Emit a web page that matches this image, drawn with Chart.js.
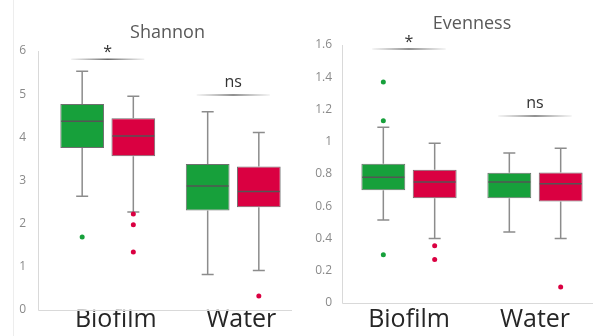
<!DOCTYPE html>
<html>
<head>
<meta charset="utf-8">
<script src="https://cdn.jsdelivr.net/npm/chart.js@4.4.1/dist/chart.umd.min.js"></script>
<style>
  html, body { margin: 0; padding: 0; background: #fff; overflow: hidden; }
  #wrap { position: relative; width: 593px; height: 336px; overflow: hidden; }
  #edge { position: absolute; left: 13px; top: 0; width: 1px; height: 336px; background: #ededed; }
  #shannon { position: absolute; left: 0; top: 0; }
  #evenness { position: absolute; left: 296px; top: 0; }
</style>
</head>
<body>
<div id="wrap">
  <div id="edge"></div>
  <canvas id="shannon" width="296" height="336"></canvas>
  <canvas id="evenness" width="302" height="336"></canvas>
</div>
<script>
const groups = ['Biofilm', 'Water']

// per group: whisker low, Q1, median, Q3, whisker high
const shannonGreen = [[2.63, 3.75, 4.37, 4.77, 5.53], [0.82, 2.30, 2.87, 3.38, 4.59]]
const shannonRed = [[2.27, 3.56, 4.03, 4.44, 4.95], [0.91, 2.38, 2.74, 3.32, 4.11]]
const shannonGreenOut = [[1.69], []]
const shannonRedOut = [[2.22, 1.97, 1.34], [0.32]]
const shannonTicks = [0, 1, 2, 3, 4, 5, 6]
const shannonSig = ['*', 'ns']
const shannonSigLevel = [5.81, 4.98]

const evenGreen = [[0.515, 0.70, 0.78, 0.863, 1.09], [0.44, 0.65, 0.75, 0.807, 0.93]]
const evenRed = [[0.40, 0.65, 0.75, 0.826, 0.99], [0.40, 0.63, 0.74, 0.81, 0.96]]
const evenGreenOut = [[1.37, 1.13, 0.30], []]
const evenRedOut = [[0.355, 0.27], [0.10]]
const evenTicks = [0, 0.2, 0.4, 0.6, 0.8, 1, 1.2, 1.4, 1.6]
const evenSig = ['*', 'ns']
const evenSigLevel = [1.575, 1.16]

const GREEN = '#17a03b'
const RED = '#da0041'
const FONT = '"Open Sans", "Noto Sans", sans-serif'

// whiskers, medians, outliers, significance bars, titles
const boxExtras = {
  id: 'boxExtras',
  beforeDatasetsDraw (chart, args, opts) {
    const ctx = chart.ctx
    const a = chart.chartArea
    const ax = Math.round(a.left + opts.axisShift) + 0.5
    ctx.save()
    ctx.strokeStyle = '#d9d9d9'
    ctx.lineWidth = 1
    ctx.beginPath()
    ctx.moveTo(ax, a.top)
    ctx.lineTo(ax, Math.round(a.bottom) + 0.5)
    ctx.lineTo(a.right + opts.axisEnd, Math.round(a.bottom) + 0.5)
    ctx.stroke()
    ctx.restore()
  },
  afterDatasetsDraw (chart, args, opts) {
    const ctx = chart.ctx
    const y = chart.scales.y
    const a = chart.chartArea
    ctx.save()

    chart.data.datasets.forEach((ds, i) => {
      const meta = chart.getDatasetMeta(i)
      meta.data.forEach((bar, j) => {
        const [lo, q1, med, q3, hi] = ds.stats[j]
        const x = bar.x
        const half = bar.width / 2
        ctx.strokeStyle = '#8c8c8c'
        ctx.lineWidth = 1.5
        ctx.beginPath()
        ctx.moveTo(x, y.getPixelForValue(q3))
        ctx.lineTo(x, y.getPixelForValue(hi))
        ctx.moveTo(x - 6, y.getPixelForValue(hi))
        ctx.lineTo(x + 6, y.getPixelForValue(hi))
        ctx.moveTo(x, y.getPixelForValue(q1))
        ctx.lineTo(x, y.getPixelForValue(lo))
        ctx.moveTo(x - 6, y.getPixelForValue(lo))
        ctx.lineTo(x + 6, y.getPixelForValue(lo))
        ctx.stroke()

        ctx.strokeStyle = '#555'
        ctx.beginPath()
        ctx.moveTo(x - half + 1, y.getPixelForValue(med))
        ctx.lineTo(x + half - 1, y.getPixelForValue(med))
        ctx.stroke()

        ctx.fillStyle = ds.backgroundColor
        ds.outliers[j].forEach(v => {
          ctx.beginPath()
          ctx.arc(x, y.getPixelForValue(v), 2.5, 0, Math.PI * 2)
          ctx.fill()
        })
      })
    })

    // significance marks over each group
    const g = chart.getDatasetMeta(0).data
    const r = chart.getDatasetMeta(1).data
    opts.sig.forEach((txt, j) => {
      const x1 = g[j].x - 11
      const x2 = r[j].x + 11
      const ly = y.getPixelForValue(opts.sigLevel[j])
      const grad = ctx.createLinearGradient(x1, 0, x2, 0)
      grad.addColorStop(0, 'rgba(120,120,120,0.1)')
      grad.addColorStop(0.5, 'rgba(90,90,90,0.9)')
      grad.addColorStop(1, 'rgba(120,120,120,0.1)')
      ctx.strokeStyle = grad
      ctx.lineWidth = 1.5
      ctx.beginPath()
      ctx.moveTo(x1, ly)
      ctx.lineTo(x2, ly)
      ctx.stroke()
      ctx.fillStyle = '#333'
      ctx.font = '16px ' + FONT
      ctx.textAlign = 'center'
      ctx.textBaseline = 'alphabetic'
      ctx.fillText(txt, (x1 + x2) / 2, ly - (txt === '*' ? 2 : 8))
    })

    ctx.fillStyle = '#595959'
    ctx.font = '18px ' + FONT
    ctx.textAlign = 'center'
    ctx.fillText(opts.title, (a.left + a.right) / 2 + opts.titleShift, opts.titleY)
    ctx.restore()
  }
}

function makeChart (id, green, red, greenOut, redOut, ticks, sig, sigLevel, o) {
  return new Chart(document.getElementById(id).getContext('2d'), {
    type: 'bar',
    data: {
      labels: groups,
      datasets: [
        {
          label: 'Series A',
          data: green.map(s => [s[1], s[3]]),
          stats: green,
          outliers: greenOut,
          backgroundColor: GREEN,
          borderColor: '#6f6f6f',
          borderWidth: 1,
          borderSkipped: false,
          categoryPercentage: 0.815,
          barPercentage: 0.855
        },
        {
          label: 'Series B',
          data: red.map(s => [s[1], s[3]]),
          stats: red,
          outliers: redOut,
          backgroundColor: RED,
          borderColor: '#6f6f6f',
          borderWidth: 1,
          borderSkipped: false,
          categoryPercentage: 0.815,
          barPercentage: 0.855
        }
      ]
    },
    options: {
      responsive: false,
      animation: false,
      layout: { padding: { top: o.top, left: 0, right: 0, bottom: 0 } },
      plugins: {
        legend: { display: false },
        tooltip: { enabled: false },
        title: { display: false },
        boxExtras: {
          title: o.title,
          titleY: o.titleY,
          titleShift: o.titleShift,
          axisShift: o.axisShift,
          axisEnd: o.axisEnd,
          sig: sig,
          sigLevel: sigLevel
        }
      },
      scales: {
        x: {
          grid: { display: false, drawTicks: false },
          border: { display: false },
          ticks: {
            color: '#262626',
            font: { family: FONT, size: 25, lineHeight: 1 },
            padding: o.xPad,
            labelOffset: o.labelOffset
          },
          afterFit: s => { s.height = o.xHeight }
        },
        y: {
          min: ticks[0],
          max: ticks[ticks.length - 1],
          grid: { display: false, drawTicks: false },
          border: { display: false },
          afterBuildTicks: s => { s.ticks = ticks.map(v => ({ value: v })) },
          ticks: {
            color: '#8a8a8a',
            font: { family: FONT, size: 12 },
            padding: o.yPad,
            autoSkip: false,
            callback: v => String(v)
          },
          afterFit: s => { s.width = o.yWidth }
        }
      }
    },
    plugins: [boxExtras]
  })
}

makeChart('shannon', shannonGreen, shannonRed, shannonGreenOut, shannonRedOut,
  shannonTicks, shannonSig, shannonSigLevel, {
    top: 51, xHeight: 26, yWidth: 45, yPad: 19, xPad: -2, labelOffset: 8,
    title: 'Shannon', titleY: 38, titleShift: -3, axisShift: -7.5, axisEnd: -4
  })

makeChart('evenness', evenGreen, evenRed, evenGreenOut, evenRedOut,
  evenTicks, evenSig, evenSigLevel, {
    top: 45, xHeight: 33, yWidth: 50, yPad: 14, xPad: 4, labelOffset: 0,
    title: 'Evenness', titleY: 29, titleShift: 0, axisShift: -4, axisEnd: 0
  })
</script>
</body>
</html>
